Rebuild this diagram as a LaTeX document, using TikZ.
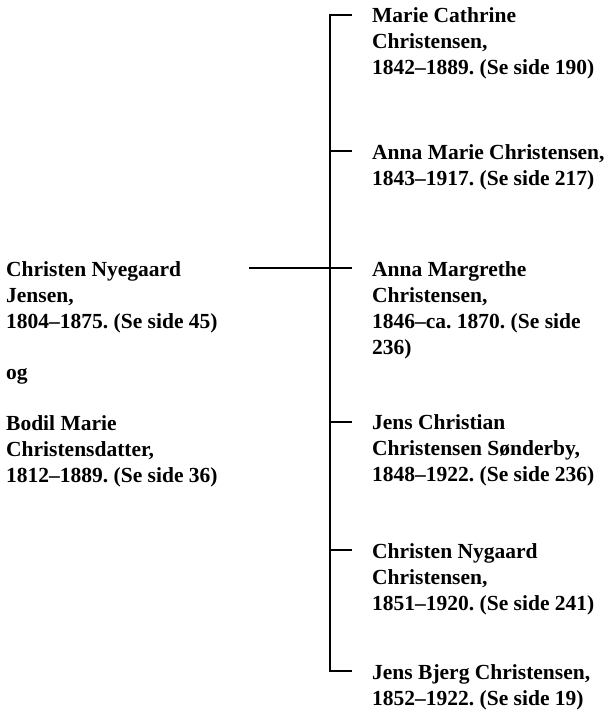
\documentclass[tikz,border=0pt]{standalone}
\usepackage{fontspec}
\setmainfont{Liberation Serif}
\usetikzlibrary{calc}
\frenchspacing
\begin{document}
\begin{tikzpicture}[x=1pt,y=-1pt,
  txt/.style={anchor=north west, inner sep=0pt, align=left,
    font=\fontsize{21.5pt}{26pt}\selectfont\bfseries\frenchspacing},
  conn/.style={line width=2pt, line join=miter}]
\useasboundingbox (0,0) rectangle (610,718);
\def\st{\rule{0pt}{18pt}}
% left (parents)
\node[txt] (par) at (6,258) {\st Christen Nyegaard\\Jensen,\\1804–1875. (Se side 45)\\[25pt]og\\[25pt]Bodil Marie\\Christensdatter,\\1812–1889. (Se side 36)};
% children
\node[txt] (c1) at (372,4) {\st Marie Cathrine\\Christensen,\\1842–1889. (Se side 190)};
\node[txt] (c2) at (372,141) {\st Anna Marie Christensen,\\1843–1917. (Se side 217)};
\node[txt] (c3) at (372,258) {\st Anna Margrethe\\Christensen,\\1846–ca. 1870. (Se side\\236)};
\node[txt] (c4) at (372,411) {\st Jens Christian\\Christensen Sønderby,\\1848–1922. (Se side 236)};
\node[txt] (c5) at (372,540) {\st Christen Nygaard\\Christensen,\\1851–1920. (Se side 241)};
\node[txt] (c6) at (372,661) {\st Jens Bjerg Christensen,\\1852–1922. (Se side 19)};
% connector coordinates
\coordinate (sp) at (330,0);
\coordinate (e1) at ($(c1.north west)+(-20,11)$);
\coordinate (e2) at ($(c2.north west)+(-20,10)$);
\coordinate (e3) at ($(c3.north west)+(-20,10)$);
\coordinate (e4) at ($(c4.north west)+(-20,11)$);
\coordinate (e5) at ($(c5.north west)+(-20,10)$);
\coordinate (e6) at ($(c6.north west)+(-20,10)$);
\coordinate (pl) at (249,268);
\draw[conn] (e1) -- (e1 -| sp) -- (e6 -| sp) -- (e6);
\draw[conn] (e2 -| sp) -- (e2);
\draw[conn] (e3 -| sp) -- (e3);
\draw[conn] (e4 -| sp) -- (e4);
\draw[conn] (e5 -| sp) -- (e5);
\draw[conn] (pl) -- (pl -| sp);
\end{tikzpicture}
\end{document}
